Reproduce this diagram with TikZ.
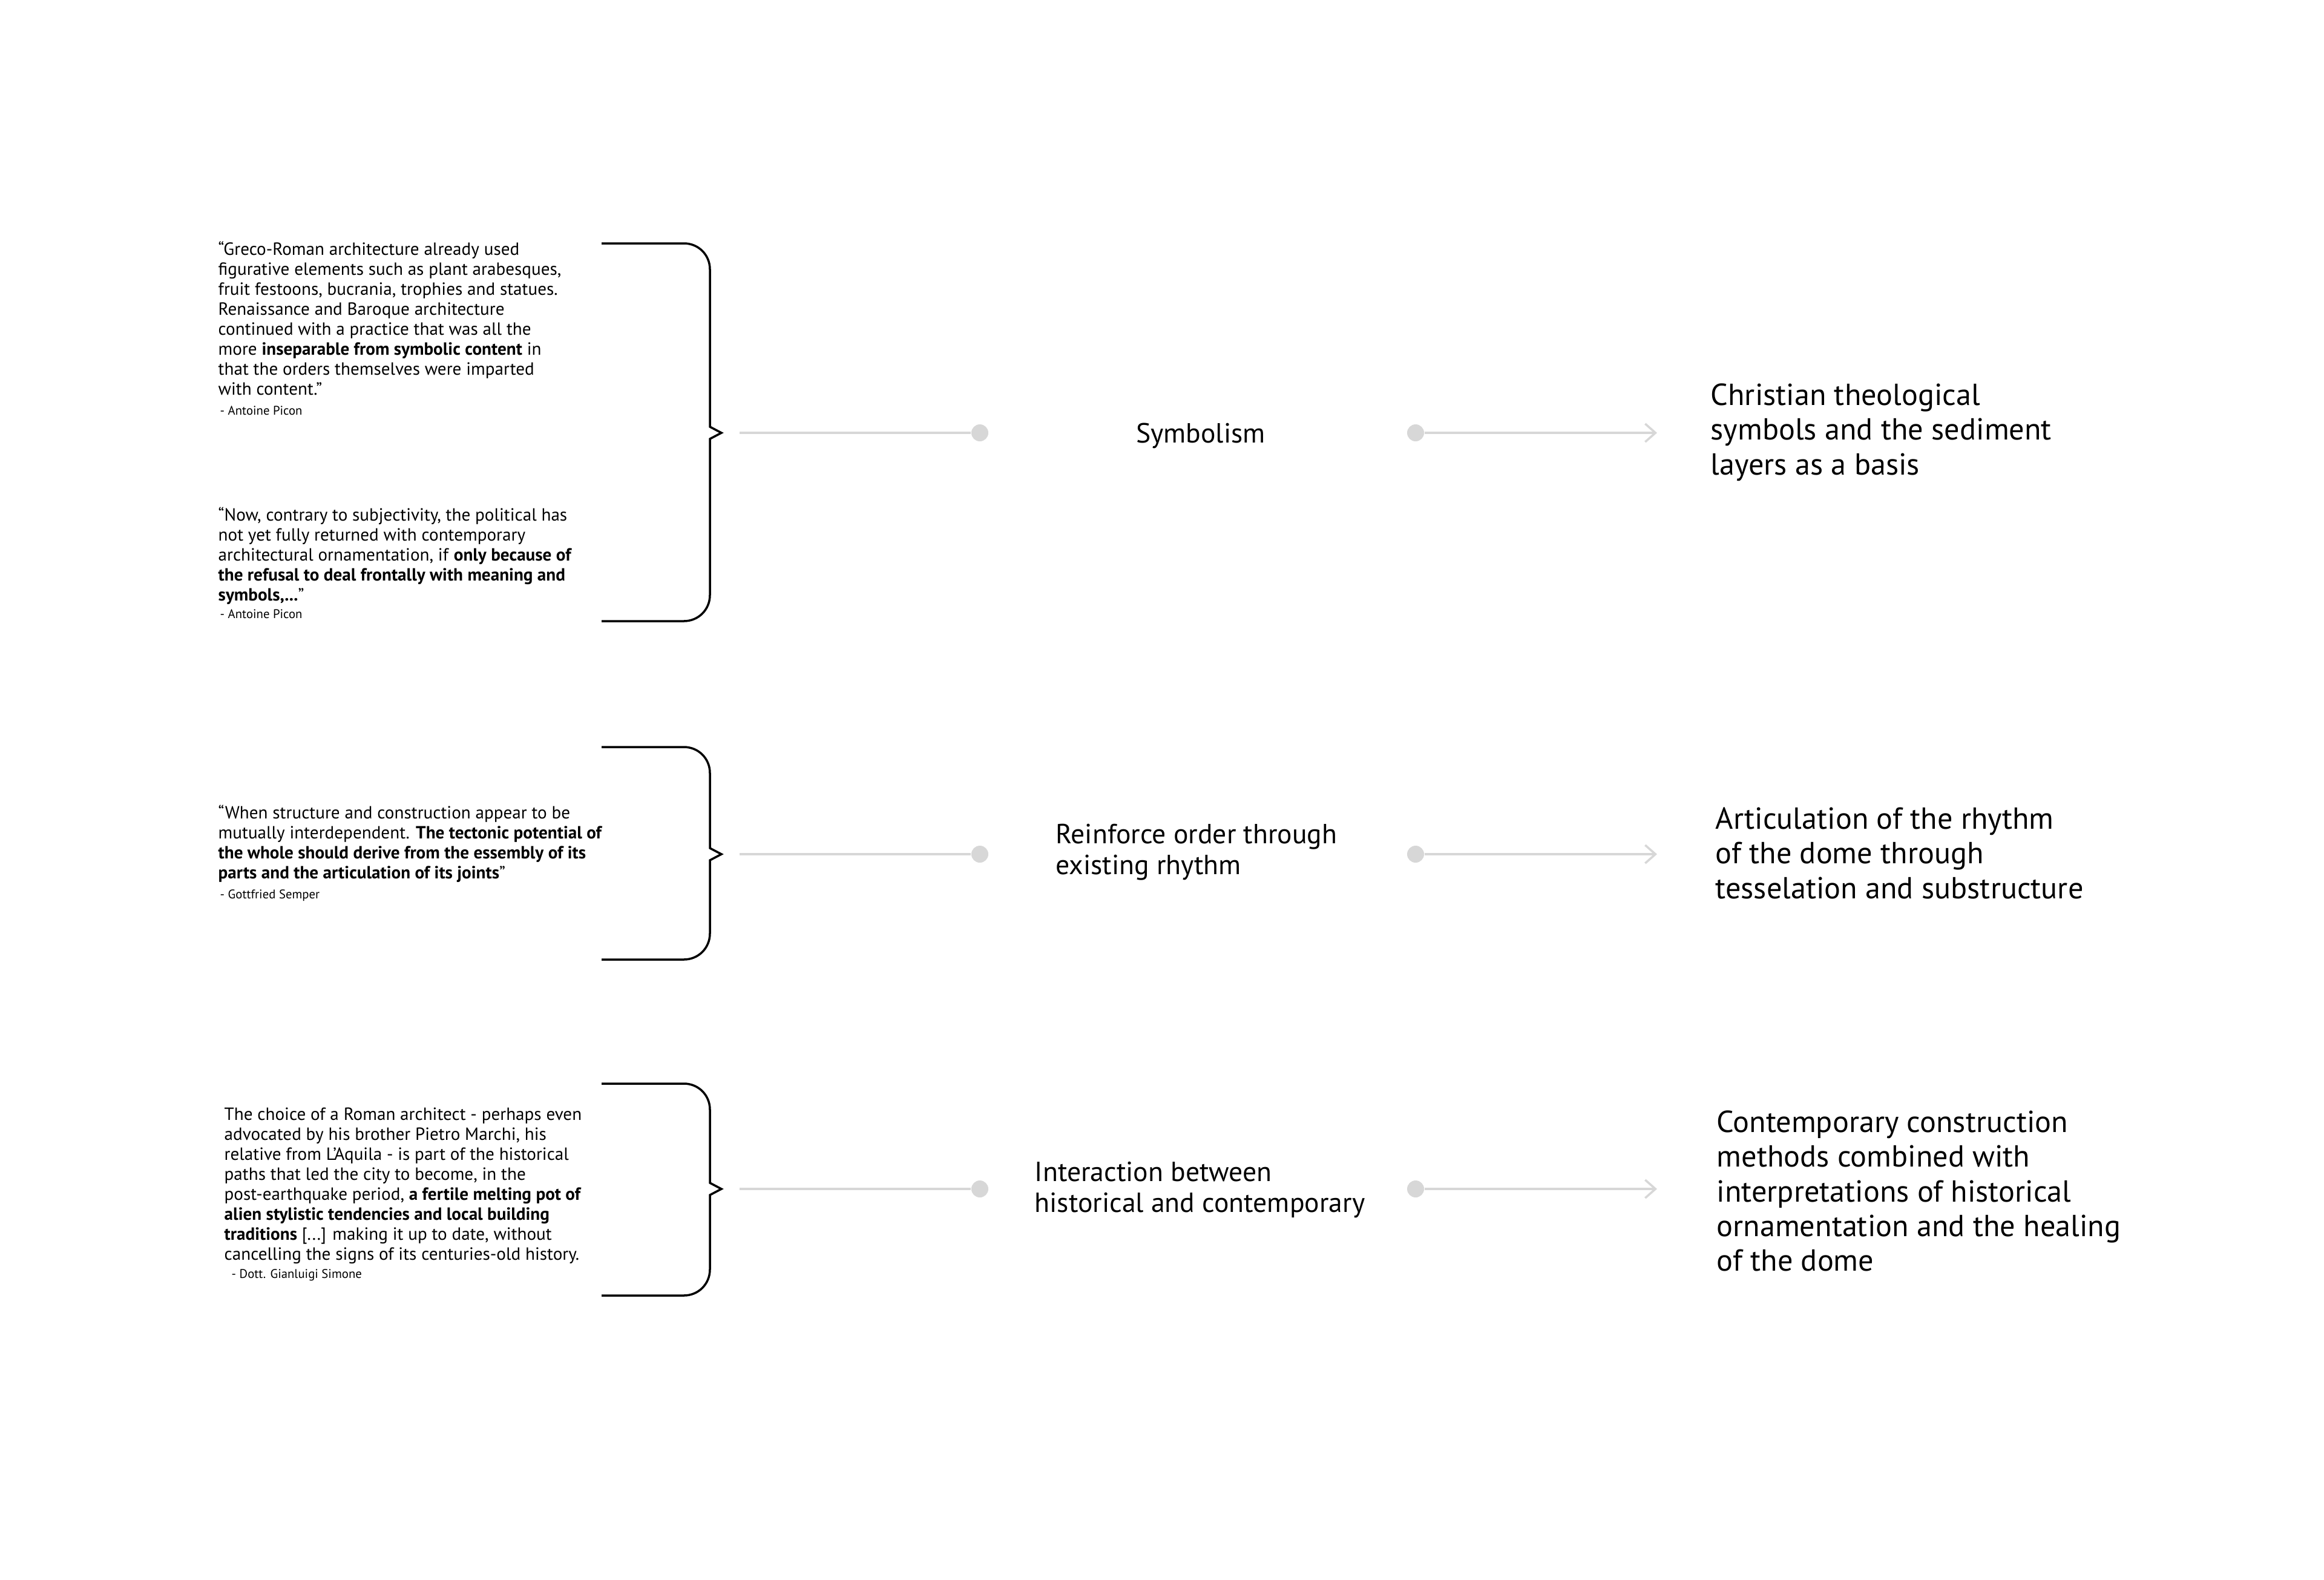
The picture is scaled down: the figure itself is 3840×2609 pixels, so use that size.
\documentclass[tikz,border=0pt]{standalone}
\usepackage{fontspec}
\setmainfont{PT Sans}
\usetikzlibrary{arrows.meta}
\definecolor{lgray}{HTML}{D7D7D7}
\tikzset{
  brace/.style={draw=black, line width=1pt, line join=miter},
  gline/.style={draw=lgray, line width=1pt},
  gdot/.style={circle, fill=lgray, inner sep=0pt, minimum size=2.8mm},
  quote/.style={anchor=north west, inner sep=0pt, align=left, font=\fontsize{8.3}{9.4}\selectfont},
  author/.style={anchor=north west, inner sep=0pt, align=left, font=\fontsize{5.9}{6.8}\selectfont},
  midtext/.style={inner sep=0pt, align=left, font=\fontsize{13}{14.5}\selectfont},
  righttext/.style={anchor=north west, inner sep=0pt, align=left, font=\fontsize{14.3}{16.3}\selectfont},
  chev/.style={-{Straight Barb[length=1.7mm, width=3mm, line width=1pt]}}
}
\begin{document}
\begin{tikzpicture}[x=0.1mm, y=-0.1mm]
\useasboundingbox[fill=white] (0,0) rectangle (3840,2609);

% ---------- Row 1 ----------
\node[quote] (q1) at (360,398) {“Greco-Roman architecture already used\\
figurative elements such as plant arabesques,\\
fruit festoons, bucrania, trophies and statues.\\
Renaissance and Baroque architecture\\
continued with a practice that was all the\\
more \textbf{inseparable from symbolic content} in\\
that the orders themselves were imparted\\
with content.”};
\node[author] (a1) at (363,670) {- Antoine Picon};
\node[quote] (q2) at (360,837) {“Now, contrary to subjectivity, the political has\\
not yet fully returned with contemporary\\
architectural ornamentation, if \textbf{only because of}\\
\textbf{the refusal to deal frontally with meaning and}\\
\textbf{symbols,...}”};
\node[author] (a2) at (363,1006) {- Antoine Picon};

\draw[brace] (994,402) -- (1130,402) .. controls (1154,402) and (1173,421) .. (1173,445)
  -- (1173,705) -- (1192,715) -- (1173,725) -- (1173,983)
  .. controls (1173,1007) and (1154,1026) .. (1130,1026) -- (994,1026);
\coordinate (s1) at (1222,715);
\node[gdot] (d1a) at (1619,715) {};
\node[midtext, anchor=center] (m1) at (1984,720) {Symbolism};
\node[gdot] (d1b) at (2339,715) {};
\coordinate (e1) at (2738,715);
\draw[gline] (s1) -- (d1a);
\draw[gline, chev] (d1b) -- (e1);
\node[righttext] (r1) at (2826,633) {Christian theological\\symbols and the sediment\\layers as a basis};

% ---------- Row 2 ----------
\node[quote] (q3) at (360,1329) {“When structure and construction appear to be\\
mutually interdependent. \textbf{The tectonic potential of}\\
\textbf{the whole should derive from the essembly of its}\\
\textbf{parts and the articulation of its joints}”};
\node[author] (a3) at (363,1469) {- Gottfried Semper};

\draw[brace] (994,1234) -- (1130,1234) .. controls (1154,1234) and (1173,1253) .. (1173,1277)
  -- (1173,1401) -- (1192,1411) -- (1173,1421) -- (1173,1542)
  .. controls (1173,1566) and (1154,1585) .. (1130,1585) -- (994,1585);
\coordinate (s2) at (1222,1411);
\node[gdot] (d2a) at (1619,1411) {};
\node[midtext, anchor=north west] (m2) at (1744,1360) {Reinforce order through\\existing rhythm};
\node[gdot] (d2b) at (2339,1411) {};
\coordinate (e2) at (2738,1411);
\draw[gline] (s2) -- (d2a);
\draw[gline, chev] (d2b) -- (e2);
\node[righttext] (r2) at (2834,1333) {Articulation of the rhythm\\of the dome through\\tesselation and substructure};

% ---------- Row 3 ----------
\node[quote] (q4) at (370,1829) {The choice of a Roman architect - perhaps even\\
advocated by his brother Pietro Marchi, his\\
relative from L’Aquila - is part of the historical\\
paths that led the city to become, in the\\
post-earthquake period, \textbf{a fertile melting pot of}\\
\textbf{alien stylistic tendencies and local building}\\
\textbf{traditions} [...] making it up to date, without\\
cancelling the signs of its centuries-old history.};
\node[author] (a4) at (382,2096) {- Dott. Gianluigi Simone};

\draw[brace] (994,1790) -- (1130,1790) .. controls (1154,1790) and (1173,1809) .. (1173,1833)
  -- (1173,1954) -- (1192,1964) -- (1173,1974) -- (1173,2097)
  .. controls (1173,2121) and (1154,2140) .. (1130,2140) -- (994,2140);
\coordinate (s3) at (1222,1964);
\node[gdot] (d3a) at (1619,1964) {};
\node[midtext, anchor=north west] (m3) at (1709,1918) {Interaction between\\historical and contemporary};
\node[gdot] (d3b) at (2339,1964) {};
\coordinate (e3) at (2738,1964);
\draw[gline] (s3) -- (d3a);
\draw[gline, chev] (d3b) -- (e3);
\node[righttext] (r3) at (2836,1834) {Contemporary construction\\methods combined with\\interpretations of historical\\ornamentation and the healing\\of the dome};
\end{tikzpicture}
\end{document}
